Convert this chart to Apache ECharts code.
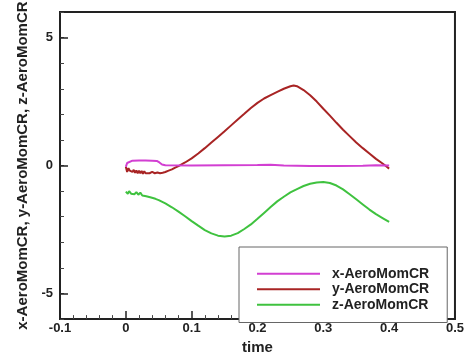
<!DOCTYPE html>
<html>
<head>
<meta charset="utf-8">
<script src="https://cdn.jsdelivr.net/npm/echarts@6/dist/echarts.min.js"></script>
<style>
  html, body { margin: 0; padding: 0; background: #fff; }
  #chart { width: 467px; height: 360px; }
</style>
</head>
<body>
<div id="chart"></div>
<script>
// series values, [time, value]
const seriesNames = ['x-AeroMomCR', 'y-AeroMomCR', 'z-AeroMomCR'];

const xMom = [
  [0, -0.05], [0.002, 0.1], [0.005, 0.17], [0.01, 0.19], [0.02, 0.2], [0.03, 0.2],
  [0.04, 0.19], [0.047, 0.18], [0.051, 0.12], [0.055, 0.04], [0.06, 0.01],
  [0.1, 0.0], [0.15, 0.01], [0.2, 0.02], [0.22, 0.03], [0.24, 0.0], [0.28, -0.02],
  [0.32, -0.02], [0.36, -0.01], [0.38, 0.01], [0.4, 0.0]
];

const yMom = [
  [0, -0.05], [0.002, -0.25], [0.004, -0.1], [0.006, -0.2], [0.008, -0.14], [0.01, -0.25],
  [0.012, -0.17], [0.014, -0.28], [0.016, -0.19], [0.018, -0.3], [0.02, -0.2], [0.022, -0.3],
  [0.024, -0.21], [0.026, -0.32], [0.028, -0.22], [0.03, -0.3], [0.033, -0.23], [0.036, -0.3],
  [0.04, -0.25], [0.044, -0.3], [0.048, -0.27], [0.052, -0.3], [0.056, -0.28], [0.06, -0.25],
  [0.065, -0.2], [0.07, -0.15], [0.075, -0.08], [0.08, -0.02], [0.09, 0.12], [0.1, 0.28],
  [0.11, 0.47], [0.12, 0.68], [0.13, 0.9], [0.14, 1.12], [0.15, 1.34], [0.16, 1.57],
  [0.17, 1.8], [0.18, 2.02], [0.19, 2.25], [0.2, 2.45], [0.21, 2.62], [0.22, 2.75],
  [0.23, 2.88], [0.24, 3.0], [0.25, 3.1], [0.255, 3.13], [0.26, 3.1], [0.27, 2.95],
  [0.28, 2.75], [0.29, 2.5], [0.3, 2.22], [0.31, 1.95], [0.32, 1.67], [0.33, 1.4],
  [0.34, 1.15], [0.35, 0.9], [0.36, 0.68], [0.37, 0.47], [0.38, 0.26], [0.39, 0.08],
  [0.395, -0.02], [0.4, -0.12]
];

const zMom = [
  [0, -1.02], [0.003, -1.1], [0.005, -1.0], [0.008, -1.1], [0.01, -1.03], [0.013, -1.12],
  [0.016, -1.04], [0.019, -1.14], [0.022, -1.06], [0.025, -1.17], [0.028, -1.1], [0.031, -1.2],
  [0.034, -1.15], [0.037, -1.24], [0.04, -1.22], [0.045, -1.3], [0.05, -1.35], [0.06, -1.48],
  [0.07, -1.63], [0.08, -1.8], [0.09, -1.98], [0.1, -2.17], [0.11, -2.35], [0.12, -2.52],
  [0.13, -2.65], [0.14, -2.74], [0.15, -2.77], [0.16, -2.74], [0.17, -2.64], [0.18, -2.48],
  [0.19, -2.3], [0.2, -2.08], [0.21, -1.85], [0.22, -1.62], [0.23, -1.4], [0.24, -1.22],
  [0.25, -1.05], [0.26, -0.92], [0.27, -0.8], [0.28, -0.71], [0.29, -0.66], [0.3, -0.64],
  [0.31, -0.68], [0.32, -0.78], [0.33, -0.93], [0.34, -1.12], [0.35, -1.32], [0.36, -1.52],
  [0.37, -1.72], [0.38, -1.9], [0.39, -2.05], [0.4, -2.2]
];

const yMajorTicks = [-5, 0, 5];
const lineColors = ['#d23fd2', '#a82424', '#3fc23f'];

const font = 'Liberation Sans, Arial, sans-serif';
const axisColor = '#222';

const chart = echarts.init(document.getElementById('chart'));

const option = {
  backgroundColor: '#fff',
  animation: false,
  grid: {
    left: 60, right: 10, top: 12, bottom: 29,
    show: true, borderColor: axisColor, borderWidth: 2, backgroundColor: 'transparent'
  },
  legend: {
    orient: 'vertical',
    left: 239, top: 247,
    padding: [19, 18, 10, 18],
    backgroundColor: '#fff',
    borderColor: '#666',
    borderWidth: 1,
    borderRadius: 0,
    icon: 'rect',
    itemWidth: 63,
    itemHeight: 2,
    itemGap: 0,
    textStyle: {
      fontFamily: font, fontWeight: 'bold', fontSize: 14, color: '#222',
      lineHeight: 15.5, padding: [0, 0, 0, 7]
    },
    data: seriesNames
  },
  xAxis: {
    type: 'value',
    min: -0.1, max: 0.5, interval: 0.1,
    name: 'time',
    nameLocation: 'middle',
    nameGap: 14,
    nameTextStyle: { fontFamily: font, fontWeight: 'bold', fontSize: 15, color: '#222' },
    axisLine: { show: true, onZero: false, lineStyle: { color: axisColor, width: 2 } },
    axisTick: { inside: true, length: 8, lineStyle: { color: axisColor, width: 1.5 } },
    minorTick: { show: true, splitNumber: 5, length: 4, lineStyle: { color: '#444' } },
    splitLine: { show: false },
    axisLabel: {
      margin: 3,
      fontFamily: font, fontWeight: 'bold', fontSize: 13, color: '#222',
      formatter: v => (Math.abs(v) < 1e-9 ? '0' : v.toFixed(1))
    }
  },
  yAxis: [{
    type: 'value',
    min: -6, max: 6, interval: 1,
    name: 'x-AeroMomCR, y-AeroMomCR, z-AeroMomCR',
    nameLocation: 'middle',
    nameGap: 25,
    nameTextStyle: { fontFamily: font, fontWeight: 'bold', fontSize: 15, color: '#222' },
    axisLine: { show: true, onZero: false, lineStyle: { color: axisColor, width: 2 } },
    axisTick: { inside: true, length: 4, lineStyle: { color: '#444' } },
    splitLine: { show: false },
    axisLabel: {
      margin: 7,
      customValues: yMajorTicks,
      fontFamily: font, fontWeight: 'bold', fontSize: 13, color: '#222'
    }
  }, {
    // longer ticks at the labelled values
    type: 'value',
    position: 'left',
    min: -6, max: 6, interval: 1,
    axisLine: { show: false, onZero: false },
    axisTick: { show: true, inside: true, length: 8, customValues: yMajorTicks, lineStyle: { color: axisColor, width: 1.5 } },
    axisLabel: { show: false },
    splitLine: { show: false }
  }],
  series: [xMom, yMom, zMom].map((d, i) => ({
    name: seriesNames[i],
    type: 'line',
    data: d,
    symbol: 'none',
    smooth: false,
    lineStyle: { color: lineColors[i], width: 2 },
    itemStyle: { color: lineColors[i] },
    z: 3 - i
  }))
};

chart.setOption(option);
</script>
</body>
</html>
